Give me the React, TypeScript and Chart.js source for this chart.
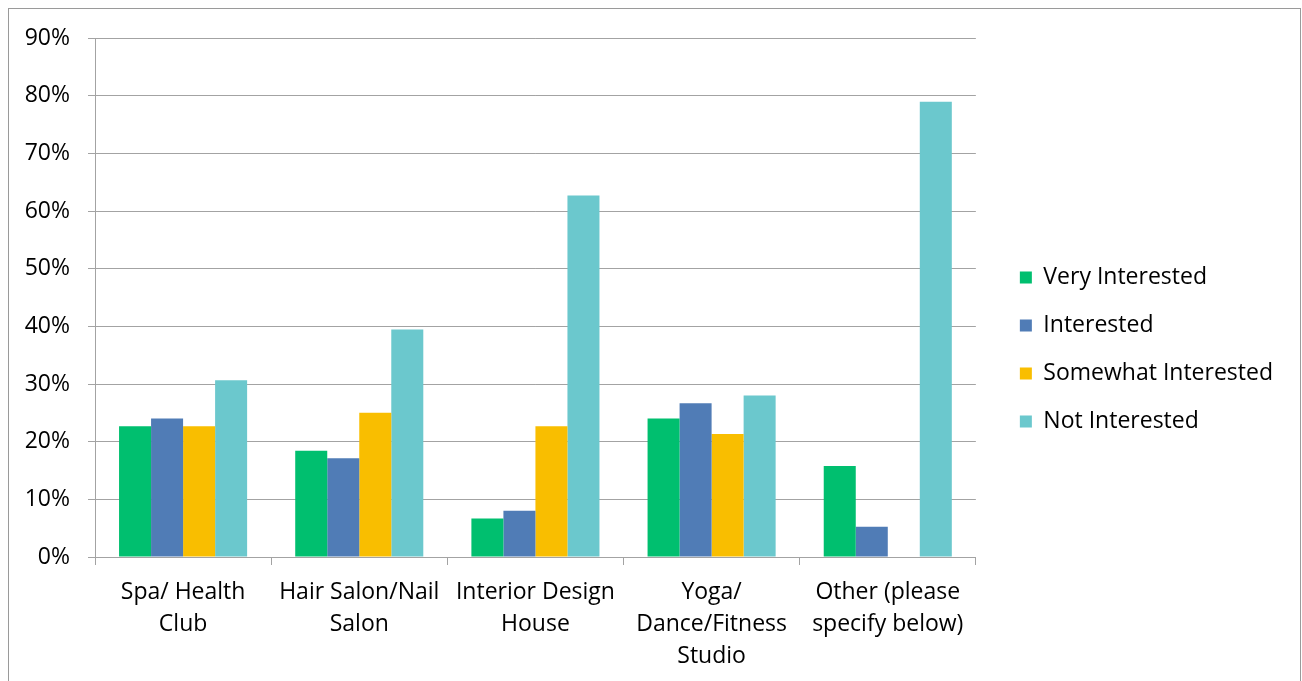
import React, { useEffect, useRef } from "react";
import { Chart, registerables } from "chart.js";

Chart.register(...registerables);

// Share of respondents by business type and interest level (percent)
const categories: string[][] = [
  ["Spa/ Health", "Club"],
  ["Hair Salon/Nail", "Salon"],
  ["Interior Design", "House"],
  ["Yoga/", "Dance/Fitness", "Studio"],
  ["Other (please", "specify below)"],
];

const veryInterested = [22.67, 18.42, 6.67, 24.0, 15.79];
const interested = [24.0, 17.11, 8.0, 26.67, 5.26];
const somewhatInterested = [22.67, 25.0, 22.67, 21.33, 0];
const notInterested = [30.67, 39.47, 62.67, 28.0, 78.95];

const seriesNames = ["Very Interested", "Interested", "Somewhat Interested", "Not Interested"];
const seriesColors = ["#00BF6F", "#507CB6", "#F9BE00", "#6BC8CD"];

const FONT = "'Open Sans', sans-serif";
const AXIS_GRAY = "#a3a3a3";

export default function App() {
  const canvasRef = useRef<HTMLCanvasElement | null>(null);

  useEffect(() => {
    document.documentElement.style.overflow = "hidden";
    document.body.style.margin = "8px 0 0 8px";
    if (!canvasRef.current) return;
    const values = [veryInterested, interested, somewhatInterested, notInterested];
    const chart = new Chart(canvasRef.current, {
      type: "bar",
      data: {
        labels: categories,
        datasets: values.map((v, i) => ({
          label: seriesNames[i],
          data: v,
          backgroundColor: seriesColors[i],
          borderWidth: 0,
          categoryPercentage: 0.727,
          barPercentage: 1,
        })),
      },
      options: {
        animation: false,
        responsive: true,
        maintainAspectRatio: false,
        layout: { padding: { left: 0, top: 9, right: 17, bottom: 0 } },
        plugins: {
          tooltip: { enabled: false },
          legend: {
            position: "right",
            maxWidth: 420,
            labels: {
              boxWidth: 12,
              boxHeight: 12,
              padding: 25,
              color: "#000",
              font: { family: FONT, size: 23 },
            },
          },
        },
        scales: {
          x: {
            grid: {
              display: true,
              drawOnChartArea: false,
              drawTicks: true,
              tickLength: 8,
              offset: true,
              color: AXIS_GRAY,
            },
            border: { color: AXIS_GRAY, width: 1 },
            ticks: {
              color: "#000",
              padding: 12,
              maxRotation: 0,
              autoSkip: false,
              font: { family: FONT, size: 23, lineHeight: 1.38 },
            },
            afterFit: (scale) => {
              scale.height = 124;
            },
          },
          y: {
            min: 0,
            max: 90,
            grid: { color: AXIS_GRAY, tickLength: 7 },
            border: { color: AXIS_GRAY, width: 1 },
            ticks: {
              stepSize: 10,
              padding: 18,
              color: "#000",
              font: { family: FONT, size: 23 },
              callback: (v) => `${v}%`,
            },
            afterFit: (scale) => {
              scale.width = 86;
              scale.paddingTop = 29;
            },
          },
          // blank gutter between the plot area and the legend
          gap: {
            type: "linear",
            position: "right",
            display: true,
            grid: { display: false, drawTicks: false },
            border: { display: false },
            ticks: { display: false },
            afterFit: (scale) => {
              scale.width = 19;
            },
          },
        },
      },
    });
    return () => chart.destroy();
  }, []);

  return (
    <div
      style={{
        width: 1293,
        height: 673,
        boxSizing: "border-box",
        borderTop: "1px solid #9a9a9a",
        borderLeft: "1px solid #9a9a9a",
        borderRight: "1px solid #9a9a9a",
        background: "#fff",
        position: "relative",
      }}
    >
      <canvas ref={canvasRef} />
    </div>
  );
}
